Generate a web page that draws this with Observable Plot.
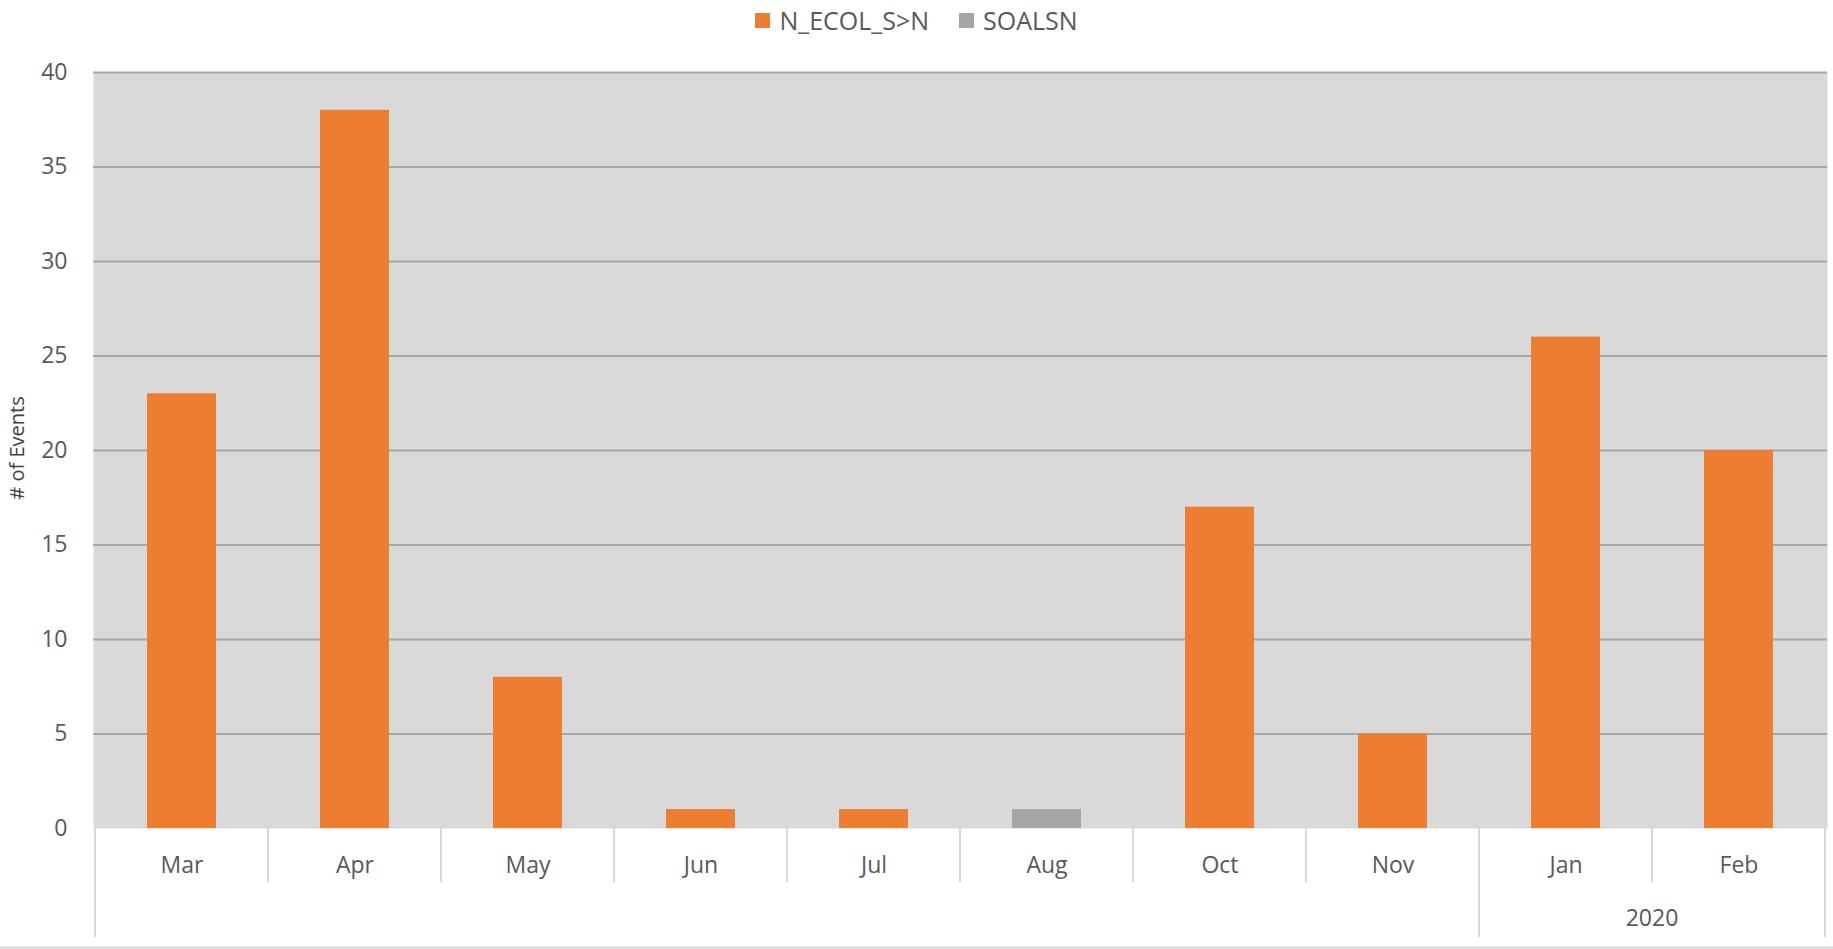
<!DOCTYPE html>
<html>
<head>
<meta charset="utf-8">
<script src="https://cdn.jsdelivr.net/npm/d3@7"></script>
<script src="https://cdn.jsdelivr.net/npm/@observablehq/plot@0.6"></script>
<style>
  html, body { margin: 0; padding: 0; background: #fff; }
  body { width: 1833px; height: 949px; overflow: hidden; font-family: "Open Sans", sans-serif; }
  #legend { height: 40px; display: flex; justify-content: center; align-items: center; gap: 30px; color: #595959; font-size: 25px; }
  #legend .item { display: flex; align-items: center; gap: 9px; }
  #legend .sw { width: 15px; height: 15px; display: inline-block; }
  #chart svg { display: block; }
</style>
</head>
<body>
<div id="legend"></div>
<div id="chart"></div>
<script>
const months = ["Mar", "Apr", "May", "Jun", "Jul", "Aug", "Oct", "Nov", "Jan", "Feb"];
const seriesNames = ["N_ECOL_S>N", "SOALSN"];
const seriesColors = ["#ed7d31", "#a5a5a5"];
const ecolValues = [23, 38, 8, 1, 1, 0, 17, 5, 26, 20];
const soalsnValues = [0, 0, 0, 0, 0, 1, 0, 0, 0, 0];
const yTicks = [0, 5, 10, 15, 20, 25, 30, 35, 40];
const yearGroups = [
  {label: "", from: "Mar", to: "Nov"},
  {label: "2020", from: "Jan", to: "Feb"}
];
const yTitle = "# of Events";

const data = [];
months.forEach((m, i) => {
  if (ecolValues[i] > 0) data.push({month: m, series: seriesNames[0], value: ecolValues[i]});
  if (soalsnValues[i] > 0) data.push({month: m, series: seriesNames[1], value: soalsnValues[i]});
});

// legend
const legend = document.getElementById("legend");
seriesNames.forEach((s, i) => {
  const it = document.createElement("div");
  it.className = "item";
  it.innerHTML = `<span class="sw" style="background:${seriesColors[i]}"></span><span></span>`;
  it.lastChild.textContent = s;
  legend.appendChild(it);
});

const W = 1833, H = 909;
const textColor = "#595959";

const plot = Plot.plot({
  width: W,
  height: H,
  marginTop: 32,
  marginBottom: 121,
  marginLeft: 93,
  marginRight: 6,
  style: {fontFamily: "Open Sans, sans-serif", color: textColor, background: "transparent"},
  x: {domain: months, paddingInner: 0.6, paddingOuter: 0.3, label: null},
  y: {domain: [0, 40], label: null},
  color: {domain: seriesNames, range: seriesColors},
  marks: [
    Plot.frame({fill: "#d9d9d9", stroke: null}),
    Plot.ruleY(yTicks.filter(d => d > 0), {stroke: "#a6a6a6", strokeWidth: 2}),
    Plot.barY(data, {x: "month", y: "value", fill: "series"}),
    Plot.axisY({ticks: yTicks, tickSize: 0, tickPadding: 26, fontSize: 23, fill: textColor, label: null}),
    Plot.axisX({tickSize: 0, tickPadding: 28, fontSize: 23, fill: textColor, label: null})
  ]
});

document.getElementById("chart").appendChild(plot);

// separators and group labels, positioned via Plot's x scale
const xs = plot.scale("x");
const ys = plot.scale("y");
const step = xs.step, bw = xs.bandwidth;
const leftEdge = m => xs.apply(m) - (step - bw) / 2;
const rightEdge = m => xs.apply(m) + bw + (step - bw) / 2;
const y0 = ys.apply(0);
const svg = d3.select(plot);
const g = svg.append("g");
const sepColor = "#d9d9d9";
const shortLen = 54, longLen = 109;
const groupEdges = new Set();
yearGroups.forEach(gr => { groupEdges.add(leftEdge(gr.from)); groupEdges.add(rightEdge(gr.to)); });
const edges = months.map(leftEdge).concat([rightEdge(months[months.length - 1])]);
edges.forEach(x => {
  const isLong = [...groupEdges].some(e => Math.abs(e - x) < 0.5);
  g.append("line").attr("x1", x).attr("x2", x).attr("y1", y0).attr("y2", y0 + (isLong ? longLen : shortLen))
    .attr("stroke", sepColor).attr("stroke-width", 2);
});
yearGroups.forEach(gr => {
  if (!gr.label) return;
  const cx = (leftEdge(gr.from) + rightEdge(gr.to)) / 2;
  g.append("text").attr("x", cx).attr("y", y0 + 90).attr("dy", "0.35em")
    .attr("text-anchor", "middle").attr("font-size", 23).attr("fill", textColor).text(gr.label);
});
// bottom border
g.append("line").attr("x1", 0).attr("x2", W).attr("y1", H - 1.5).attr("y2", H - 1.5)
  .attr("stroke", sepColor).attr("stroke-width", 2);
// y title
const yc = (ys.apply(40) + ys.apply(0)) / 2 - 2;
g.append("text").attr("transform", `translate(17,${yc}) rotate(-90)`).attr("dy", "0.35em")
  .attr("text-anchor", "middle").attr("font-size", 20).attr("fill", "#404040").text(yTitle);
</script>
</body>
</html>
